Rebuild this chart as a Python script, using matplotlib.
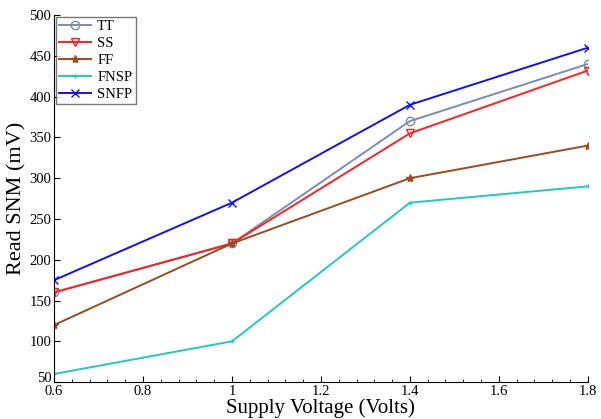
import matplotlib
matplotlib.use("Agg")
import matplotlib.pyplot as plt
import matplotlib.transforms as mtransforms
from matplotlib.ticker import MultipleLocator

plt.rcParams['font.family'] = ['Liberation Serif', 'DejaVu Serif']

voltage = [0.6, 1.0, 1.4, 1.8]
tt = [160, 220, 370, 440]
ss = [160, 220, 355, 432]
ff = [120, 220, 300, 340]
fnsp = [60, 100, 270, 290]
snfp = [175, 270, 390, 460]

fig = plt.figure(figsize=(6.01, 4.19), dpi=100)
ax = fig.add_axes([0.09, 0.088, 0.888, 0.876])

ax.plot(voltage, tt, color='#7b8db5', marker='o', mfc='none', ms=6, lw=1.4, label='TT')
ax.plot(voltage, ss, color='#ff2020', marker='v', mfc='none', ms=6, lw=1.4, label='SS')
ax.plot(voltage, ff, color='#a04a1c', marker='*', ms=6, lw=1.4, label='FF')
ax.plot(voltage, fnsp, color='#20c8c8', marker='+', ms=3, lw=1.4, label='FNSP')
ax.plot(voltage, snfp, color='#1010ff', marker='x', ms=6, lw=1.4, label='SNFP')

ax.set_xlim(0.6, 1.8)
ax.set_ylim(50, 500)
ax.set_xticks([0.6, 0.8, 1.0, 1.2, 1.4, 1.6, 1.8])
ax.set_xticklabels(['0.6', '0.8', '1', '1.2', '1.4', '1.6', '1.8'])
ax.xaxis.set_minor_locator(MultipleLocator(0.04))
ax.set_yticks(range(50, 501, 50))
ax.tick_params(direction='in', labelsize=10.5, length=4, pad=2)
ax.tick_params(which='minor', direction='in', length=2.5)
ax.spines['top'].set_visible(False)
ax.spines['right'].set_visible(False)

# lift the bottom "50" a little so it clears the "0.6" label
lowest = ax.get_yticklabels()[0]
lowest.set_transform(lowest.get_transform() +
                     mtransforms.ScaledTranslation(0, 4 / 72, fig.dpi_scale_trans))

ax.set_xlabel('Supply Voltage (Volts)', fontsize=15, labelpad=0)
ax.set_ylabel('Read SNM (mV)', fontsize=16, labelpad=2)

leg = ax.legend(loc='upper left', fontsize=10.5, fancybox=False, edgecolor='#555555',
                borderaxespad=0.1, handlelength=2.2, handletextpad=0.4,
                labelspacing=0.25, borderpad=0.25)
leg.get_frame().set_linewidth(1.0)

fig.savefig('out.png', dpi=100)
